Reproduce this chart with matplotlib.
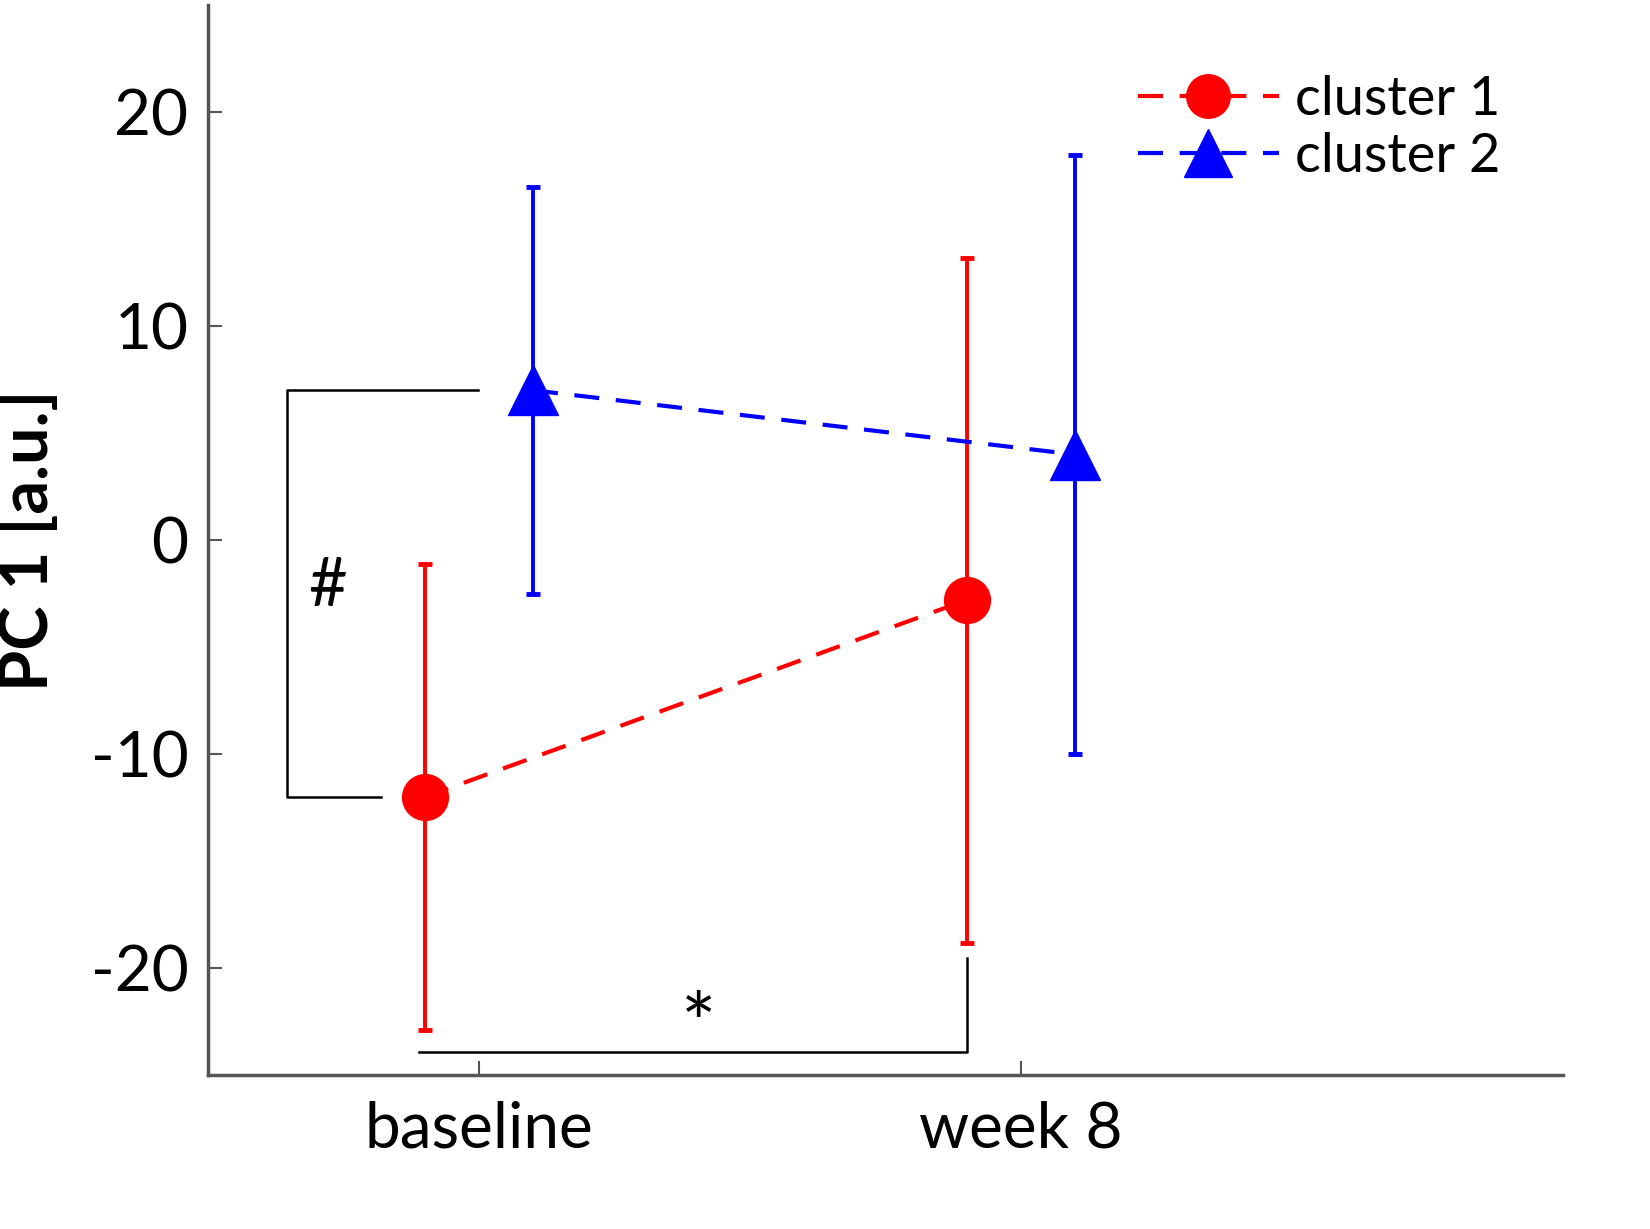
import matplotlib.pyplot as plt

# データ
timepoints = ["baseline", "week 8"]
x_pos = [1, 2]
c1_mean = [-12.0, -2.8]
c1_err = [10.9, 16.0]
c2_mean = [7.0, 4.0]
c2_err = [9.5, 14.0]
offset = 0.1

plt.rcParams["font.family"] = ["Lato", "DejaVu Sans"]

fig = plt.figure(figsize=(16.5, 12.29), dpi=100)
ax = fig.add_axes([0.126, 0.125, 0.821, 0.871])

x1 = [x - offset for x in x_pos]
x2 = [x + offset for x in x_pos]

ax.errorbar(x1, c1_mean, yerr=c1_err, fmt="none", ecolor="red",
            elinewidth=2.8, capsize=5, capthick=3.5, zorder=2)
ax.errorbar(x2, c2_mean, yerr=c2_err, fmt="none", ecolor="blue",
            elinewidth=2.8, capsize=5, capthick=3.5, zorder=2)
ax.plot(x1, c1_mean, color="red", ls=(0, (6, 4)), lw=3, marker="o",
        ms=33, label="cluster 1", zorder=3)
ax.plot(x2, c2_mean, color="blue", ls=(0, (6, 4)), lw=3, marker="^",
        ms=36, label="cluster 2", zorder=3)

# 有意差ブラケット
ax.plot([0.998, 0.646, 0.646, 0.819], [7.0, 7.0, -12.0, -12.0],
        color="black", lw=1.8)
ax.text(0.72, -2.2, "#", fontsize=48, ha="center", va="center")
ax.plot([0.89, 1.9, 1.9], [-23.9, -23.9, -19.5], color="black", lw=1.8)
ax.text(1.405, -22.9, "*", fontsize=60, ha="center", va="center")

ax.set_xlim(0.5, 3)
ax.set_ylim(-25, 25)
ax.set_xticks(x_pos)
ax.set_xticklabels(timepoints)
ax.set_yticks([-20, -10, 0, 10, 20])
ax.set_yticklabels(["-20", "-10", "0", "10", "20"])
ax.tick_params(axis="both", direction="in", length=10, width=1.5,
               labelsize=46, color="#555555")
ax.tick_params(axis="x", pad=18)
ax.tick_params(axis="y", pad=14)
ax.set_ylabel("PC 1 [a.u.]", fontsize=48, fontweight="bold", labelpad=22)

for s in ["top", "right"]:
    ax.spines[s].set_visible(False)
for s in ["left", "bottom"]:
    ax.spines[s].set_color("#555555")
    ax.spines[s].set_linewidth(2.5)

ax.legend(loc="upper right", bbox_to_anchor=(0.99, 0.98), fontsize=39,
          frameon=False, handlelength=2.6, handletextpad=0.3,
          labelspacing=0.15, markerscale=0.95)

plt.savefig("out.png", dpi=100)
plt.close()
